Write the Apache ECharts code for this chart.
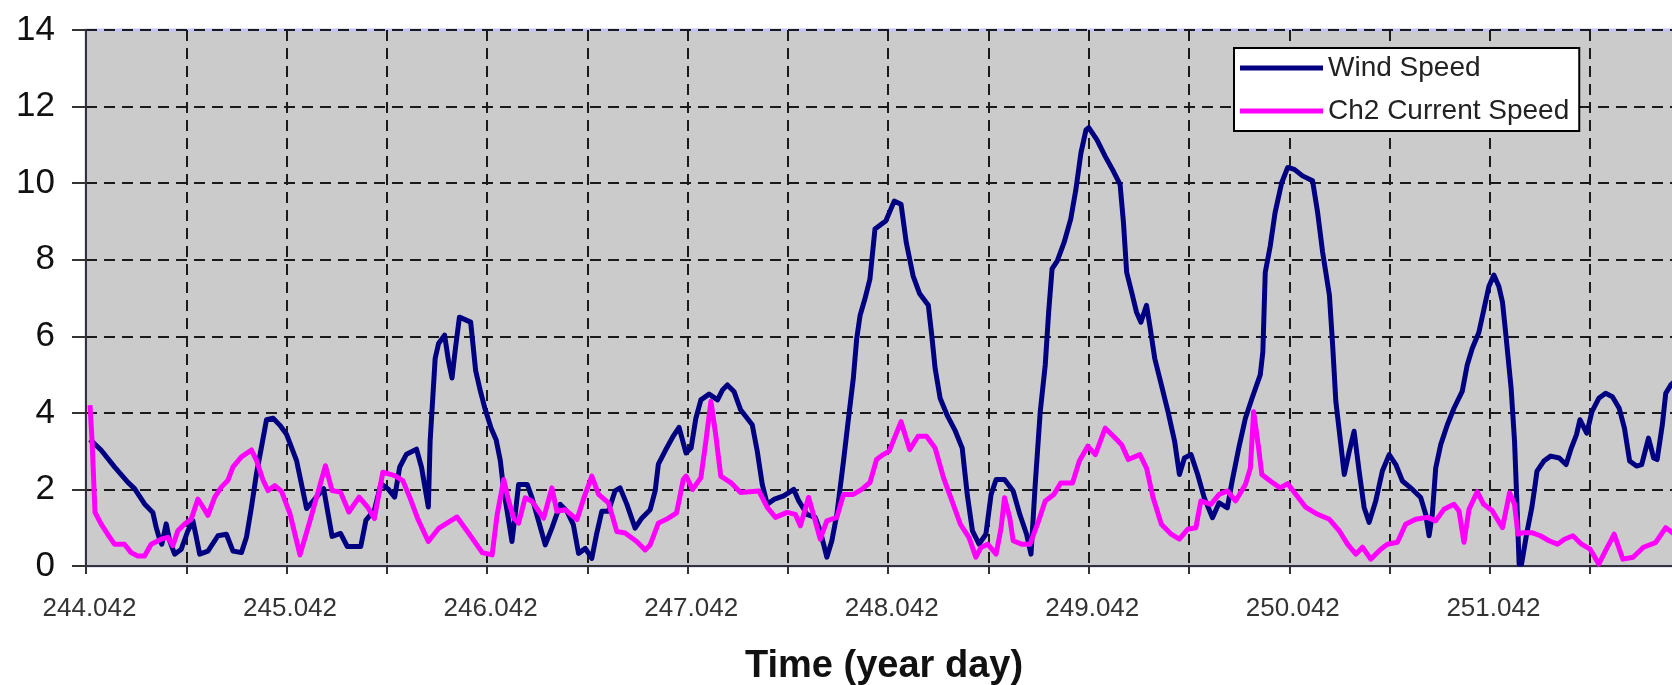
<!DOCTYPE html>
<html>
<head>
<meta charset="utf-8">
<script src="https://cdn.jsdelivr.net/npm/echarts@6/dist/echarts.min.js"></script>
<style>
html,body{margin:0;padding:0;overflow:hidden;background:#fff;width:1672px;height:685px;}
#chart{width:1690px;height:685px;}
</style>
</head>
<body>
<div id="chart"></div>
<script>
// ---- data (year day, m/s) ----
const seriesNames = ['Wind Speed', 'Ch2 Current Speed'];
const xLabelDays = [244.042, 245.042, 246.042, 247.042, 248.042, 249.042, 250.042, 251.042];
const yTicks = [0, 2, 4, 6, 8, 10, 12, 14];

const windDay = [244.062,244.117,244.184,244.250,244.284,244.334,244.375,244.392,244.409,244.420,244.442,244.459,244.484,244.517,244.550,244.575,244.592,244.609,244.650,244.700,244.742,244.775,244.817,244.842,244.867,244.892,244.917,244.942,244.975,245.008,
245.042,245.092,245.142,245.227,245.269,245.311,245.345,245.412,245.438,245.480,245.513,245.547,245.581,245.606,245.640,245.690,245.715,245.749,245.758,245.783,245.800,245.830,245.850,245.867,245.884,245.904,245.960,245.985,246.007,246.032,
246.062,246.087,246.108,246.125,246.142,246.166,246.182,246.199,246.242,246.266,246.299,246.332,246.365,246.407,246.440,246.472,246.498,246.532,246.564,246.589,246.614,246.647,246.680,246.705,246.739,246.780,246.813,246.855,246.880,246.896,246.930,246.971,246.999,
247.034,247.059,247.083,247.108,247.149,247.191,247.216,247.240,247.273,247.306,247.364,247.389,247.414,247.439,247.472,247.521,247.571,247.596,247.637,247.678,247.703,247.736,247.761,247.786,247.819,247.844,247.868,247.885,247.902,247.926,247.951,247.976,248.009,
248.030,248.072,248.106,248.132,248.166,248.199,248.242,248.259,248.276,248.301,248.335,248.377,248.411,248.436,248.462,248.495,248.529,248.555,248.580,248.622,248.665,248.698,248.732,248.754,248.775,248.800,248.825,248.842,248.859,248.885,248.919,248.952,248.978,249.003,249.028,
249.042,249.083,249.124,249.165,249.198,249.215,249.231,249.256,249.280,249.302,249.330,249.346,249.371,249.404,249.437,249.470,249.494,249.519,249.552,249.585,249.618,249.659,249.692,249.733,249.757,249.790,249.823,249.856,249.897,249.910,249.922,249.947,249.971,250.004,
250.034,250.067,250.108,250.158,250.183,250.208,250.242,250.258,250.274,250.299,250.316,250.341,250.365,250.390,250.415,250.440,250.473,250.506,250.540,250.573,250.606,250.656,250.697,250.722,250.739,250.755,250.772,250.797,250.830,250.863,250.904,250.929,250.954,250.987,251.012,251.037,
251.062,251.087,251.105,251.122,251.148,251.165,251.174,251.188,251.200,251.225,251.251,251.268,251.277,251.311,251.345,251.388,251.422,251.448,251.474,251.491,251.525,251.551,251.585,251.619,251.653,251.687,251.713,251.739,251.773,251.799,251.833,251.859,251.876,251.902,251.919,251.944,251.972];
const windSpeed = [3.30,3.03,2.59,2.19,2.02,1.62,1.40,1.01,0.70,0.57,1.10,0.66,0.31,0.44,0.92,1.18,0.75,0.31,0.39,0.79,0.83,0.39,0.35,0.75,1.54,2.41,3.11,3.82,3.86,3.68,
3.44,2.75,1.50,2.02,0.77,0.85,0.51,0.51,1.20,1.46,2.15,2.02,1.80,2.58,2.92,3.05,2.58,1.54,3.27,5.42,5.81,6.03,5.34,4.91,5.68,6.50,6.37,5.10,4.60,4.10,
3.60,3.30,2.75,1.96,1.43,0.64,1.34,2.13,2.13,1.78,1.17,0.55,0.99,1.61,1.43,1.08,0.33,0.46,0.20,0.86,1.43,1.43,1.96,2.04,1.61,0.99,1.25,1.47,1.96,2.66,3.01,3.40,3.62,
2.95,3.08,3.86,4.34,4.49,4.34,4.60,4.73,4.56,4.08,3.69,3.00,2.13,1.61,1.74,1.83,2.00,1.70,1.35,1.27,0.92,0.23,0.66,1.35,2.74,3.86,4.90,5.94,6.55,6.98,7.50,8.80,8.93,
9.01,9.53,9.45,8.45,7.58,7.11,6.81,6.03,5.16,4.38,3.95,3.52,3.08,1.87,0.92,0.57,0.83,1.87,2.26,2.26,1.96,1.35,0.83,0.31,2.13,4.03,5.25,6.63,7.76,7.97,8.45,9.06,9.84,10.79,11.39,
11.45,11.13,10.70,10.31,9.97,8.97,7.67,7.15,6.63,6.37,6.81,6.29,5.42,4.73,4.03,3.26,2.39,2.82,2.91,2.39,1.78,1.26,1.65,1.52,2.22,3.08,3.86,4.38,4.99,5.59,7.67,8.36,9.23,10.01,
10.41,10.36,10.19,10.06,9.24,8.20,7.07,5.77,4.30,3.17,2.39,3.00,3.52,2.48,1.53,1.14,1.70,2.48,2.91,2.65,2.22,2.00,1.79,1.35,0.79,1.35,2.56,3.17,3.69,4.12,4.56,5.25,5.68,6.10,6.70,7.30,
7.60,7.30,6.89,6.03,4.64,3.26,2.04,0.05,0.05,0.83,1.52,2.13,2.48,2.74,2.87,2.82,2.65,3.08,3.43,3.82,3.47,4.03,4.38,4.51,4.42,4.12,3.60,2.74,2.61,2.65,3.34,2.82,2.78,3.69,4.51,4.73,4.86];

const currentDay = [244.062,244.072,244.087,244.117,244.150,244.184,244.234,244.267,244.300,244.334,244.367,244.417,244.450,244.475,244.500,244.534,244.567,244.600,244.625,244.650,244.684,244.717,244.750,244.775,244.817,244.867,244.892,244.925,244.950,244.984,245.017,
245.059,245.109,245.160,245.236,245.269,245.311,245.353,245.404,245.446,245.480,245.522,245.581,245.622,245.656,245.699,245.749,245.800,245.892,245.951,246.018,
246.067,246.092,246.125,246.150,246.175,246.199,246.232,246.266,246.324,246.365,246.390,246.432,246.490,246.522,246.564,246.598,246.647,246.689,246.730,246.788,246.830,246.855,246.896,246.946,246.987,247.020,
247.034,247.067,247.108,247.133,247.158,247.182,247.207,247.257,247.306,247.397,247.439,247.480,247.538,247.579,247.604,247.645,247.678,247.703,247.736,247.786,247.819,247.868,247.910,247.951,247.984,248.017,
248.047,248.106,248.149,248.191,248.233,248.276,248.318,248.360,248.402,248.445,248.479,248.504,248.538,248.580,248.605,248.622,248.648,248.665,248.707,248.749,248.792,248.825,248.868,248.902,248.961,248.995,249.037,
249.075,249.124,249.165,249.206,249.239,249.297,249.330,249.363,249.404,249.453,249.494,249.535,249.576,249.601,249.651,249.692,249.733,249.774,249.823,249.848,249.864,249.889,249.905,249.947,249.996,
250.034,250.075,250.125,250.183,250.242,250.291,250.332,250.374,250.407,250.448,250.498,250.531,250.581,250.622,250.672,250.730,250.772,250.813,250.863,250.888,250.913,250.938,250.979,251.011,
251.054,251.105,251.140,251.165,251.182,251.208,251.251,251.294,251.337,251.379,251.414,251.456,251.499,251.542,251.585,251.619,251.662,251.705,251.756,251.808,251.868,251.919,251.972];
const currentSpeed = [4.20,3.30,1.40,1.10,0.83,0.57,0.57,0.35,0.26,0.26,0.57,0.70,0.75,0.53,0.92,1.10,1.23,1.75,1.54,1.32,1.80,2.06,2.24,2.59,2.85,3.03,2.76,2.24,1.97,2.10,1.95,
1.37,0.29,1.20,2.62,1.97,1.93,1.41,1.80,1.54,1.24,2.45,2.36,2.23,1.80,1.20,0.64,0.98,1.28,0.85,0.35,
0.29,1.34,2.26,1.69,1.25,1.12,1.78,1.69,1.25,2.04,1.43,1.47,1.21,1.74,2.35,1.87,1.65,0.90,0.86,0.64,0.42,0.55,1.12,1.25,1.39,2.26,
2.35,2.00,2.31,3.26,4.30,3.43,2.35,2.18,1.92,1.96,1.53,1.27,1.40,1.35,1.05,1.79,1.18,0.70,1.18,1.27,1.87,1.87,2.00,2.18,2.78,2.91,
3.00,3.77,3.04,3.39,3.39,3.08,2.30,1.70,1.09,0.74,0.23,0.48,0.57,0.31,1.00,1.78,1.26,0.66,0.57,0.57,1.18,1.70,1.87,2.17,2.17,2.74,3.13,
2.91,3.60,3.39,3.17,2.78,2.91,2.56,1.78,1.09,0.83,0.70,0.96,1.00,1.70,1.61,1.87,1.96,1.70,2.13,2.56,4.03,3.08,2.39,2.22,2.04,
2.15,1.87,1.53,1.35,1.22,0.92,0.57,0.31,0.49,0.18,0.44,0.57,0.62,1.09,1.22,1.27,1.18,1.48,1.61,1.44,0.62,1.48,1.94,1.61,
1.44,1.00,1.91,1.61,0.83,0.87,0.87,0.79,0.66,0.57,0.70,0.79,0.57,0.44,0.05,0.40,0.83,0.18,0.23,0.49,0.61,1.00,0.80];

// ---- chart ----
const FONT = "'Liberation Sans', Arial, sans-serif";
const X_MIN = 244.042, X_MAX = 252.0, X_STEP = 0.5;

function pairs(xs, ys) { return xs.map((x, i) => [x, ys[i]]); }

const chart = echarts.init(document.getElementById('chart'), null, { renderer: 'canvas' });
chart.setOption({
  animation: false,
  backgroundColor: '#ffffff',
  grid: {
    left: 86, top: 30, width: 1596, height: 536,
    outerBoundsMode: 'none',
    containLabel: false,
    show: true, backgroundColor: '#cbcbcb',
    borderColor: '#c4c4f6', borderWidth: 3
  },
  legend: {
    orient: 'vertical',
    left: 1234, top: 48,
    backgroundColor: '#ffffff',
    borderColor: '#000000', borderWidth: 2,
    padding: [6, 10, 6, 6],
    itemGap: 15,
    itemWidth: 83, itemHeight: 5,
    icon: 'rect',
    data: seriesNames,
    textStyle: { fontFamily: FONT, fontSize: 28, lineHeight: 28, color: '#222' }
  },
  xAxis: {
    type: 'value',
    min: X_MIN, max: X_MAX, interval: X_STEP,
    name: 'Time (year day)',
    nameLocation: 'middle',
    nameGap: 82,
    nameTextStyle: { fontFamily: FONT, fontSize: 38, fontWeight: 'bold', color: '#111' },
    axisLine: { show: true, onZero: false, lineStyle: { color: '#333', width: 2 } },
    axisTick: { show: true, length: 8, lineStyle: { color: '#333', width: 2 } },
    axisLabel: {
      fontFamily: FONT, fontSize: 26, color: '#333', margin: 30,
      padding: [0, 0, 0, 7],
      formatter: function (v) {
        const k = (v - X_MIN);
        const r = Math.round(k);
        if (Math.abs(k - r) < 1e-6 && xLabelDays.some(d => Math.abs(d - v) < 1e-6)) return v.toFixed(3);
        return '';
      }
    },
    splitLine: { show: true, lineStyle: { color: '#1a1a1a', width: 2, type: [11, 7] } }
  },
  yAxis: {
    type: 'value',
    min: yTicks[0], max: yTicks[yTicks.length - 1], interval: yTicks[1] - yTicks[0],
    axisLine: { show: true, lineStyle: { color: '#333', width: 2 } },
    axisTick: { show: true, length: 14, lineStyle: { color: '#333', width: 2 } },
    axisLabel: { fontFamily: FONT, fontSize: 35, color: '#111', margin: 31 },
    splitLine: { show: true, lineStyle: { color: '#1a1a1a', width: 2, type: [11, 7] } }
  },
  series: [
    {
      name: seriesNames[0], type: 'line',
      data: pairs(windDay, windSpeed),
      showSymbol: false, symbol: 'none',
      lineStyle: { color: '#000080', width: 5, join: 'round' },
      itemStyle: { color: '#000080' }
    },
    {
      name: seriesNames[1], type: 'line',
      data: pairs(currentDay, currentSpeed),
      showSymbol: false, symbol: 'none',
      lineStyle: { color: '#ff00ff', width: 5, join: 'round' },
      itemStyle: { color: '#ff00ff' }
    }
  ]
});
</script>
</body>
</html>
